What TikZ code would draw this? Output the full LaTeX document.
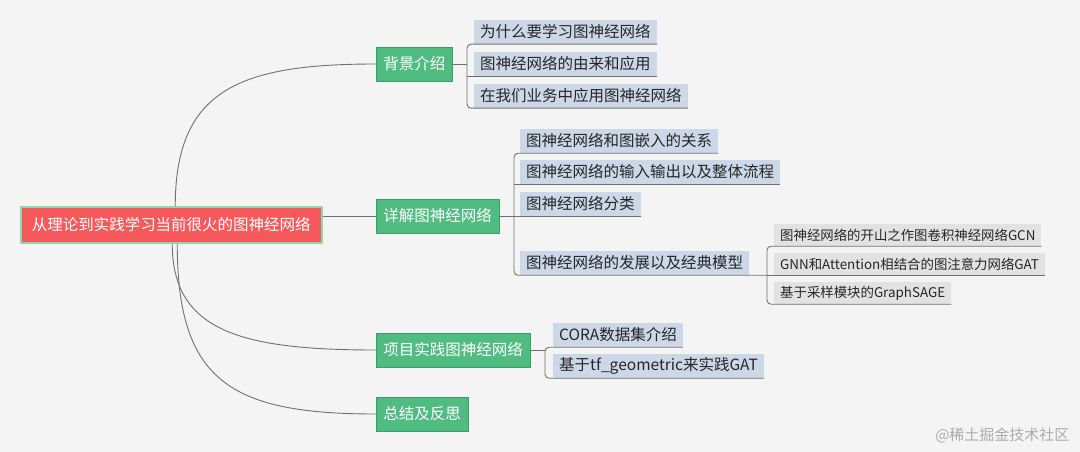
\documentclass[tikz,border=0pt]{standalone}
\usepackage{fontspec}
\setmainfont{Noto Sans CJK SC}
\usetikzlibrary{positioning}
\definecolor{bgc}{HTML}{F4F4F4}
\definecolor{rootred}{HTML}{F5595B}
\definecolor{rootline}{HTML}{8ED8B0}
\definecolor{topgreen}{HTML}{50BC81}
\definecolor{topline}{HTML}{3A9E68}
\definecolor{subblue}{HTML}{CCD7E8}
\definecolor{leafgray}{HTML}{E2E2E2}
\definecolor{linegray}{HTML}{707070}
\definecolor{markgray}{HTML}{ABABAB}

\begin{document}
\begin{tikzpicture}[x=1pt, y=-1pt,
      root/.style={anchor=west, fill=rootred, draw=rootline, line width=1.5pt,
        text=white, minimum height=36pt, inner xsep=11pt, inner ysep=0pt,
        font=\fontsize{15.5}{18}\selectfont},
      topic/.style={anchor=west, fill=topgreen, draw=topline, line width=0.8pt,
        text=white, minimum height=34pt, inner xsep=7pt, inner ysep=0pt,
        font=\fontsize{15.5}{18}\selectfont},
      sub/.style={anchor=west, fill=subblue, minimum height=24pt,
        inner xsep=6pt, inner ysep=0pt, text=black!85,
        font=\fontsize{15.5}{18}\selectfont},
      leaf/.style={anchor=west, fill=leafgray, minimum height=22pt,
        inner xsep=6pt, inner ysep=0pt, text=black!85,
        font=\fontsize{13.4}{15}\selectfont},
      link/.style={draw=linegray, line width=0.9pt},
      watermark/.style={anchor=east, text=markgray, font=\fontsize{15}{18}\selectfont}]
    \fill[bgc] (0,0) rectangle (1080,452);

    % main topic
    \node[root] (root) at (20,225) {从理论到实践学习当前很火的图神经网络};

    % first level
    \node[topic] (bg) at (376,64) {背景介绍};
    \node[topic] (xj) at (376,216) {详解图神经网络};
    \node[topic] (xm) at (376,350) {项目实践图神经网络};
    \node[topic] (zj) at (376,414) {总结及反思};

    % second level
    \node[sub] (b1) at (474,32) {为什么要学习图神经网络};
    \node[sub] (b2) at (474,64) {图神经网络的由来和应用};
    \node[sub] (b3) at (474,96) {在我们业务中应用图神经网络};

    \node[sub] (x1) at (520,141) {图神经网络和图嵌入的关系};
    \node[sub] (x2) at (520,172) {图神经网络的输入输出以及整体流程};
    \node[sub] (x3) at (520,204) {图神经网络分类};
    \node[sub] (x4) at (520,263) {图神经网络的发展以及经典模型};

    \node[leaf] (g1) at (774,235) {图神经网络的开山之作图卷积神经网络GCN};
    \node[leaf] (g2) at (774,264) {GNN和Attention相结合的图注意力网络GAT};
    \node[leaf] (g3) at (774,293) {基于采样模块的GraphSAGE};

    \node[sub] (p1) at (553,335) {CORA数据集介绍};
    \node[sub] (p2) at (553,366) {基于tf\_geometric来实践GAT};

    \node[watermark] (wm) at (1073,435) {@稀土掘金技术社区};

    % spines
    \coordinate (bgs) at (467,0);
    \coordinate (xjs) at (514,0);
    \coordinate (x4s) at (767,0);
    \coordinate (xms) at (545,0);

    % curves from the main topic
    \draw[link] ([xshift=4]root.north) .. controls +(0,-117) and +(-136,0) .. (bg.west);
    \draw[link] (xj.west -| root.east) -- (xj.west);
    \draw[link] ([xshift=1]root.south) .. controls +(0,87) and +(-136,0) .. (xm.west);
    \draw[link] ([xshift=6]root.south) .. controls +(0,137) and +(-146,0) .. (zj.west);

    % brackets
    \draw[link] (bg.east) -- (bg.east -| bgs);
    \draw[link, rounded corners=4] (b1.south east) -- (b1.south west -| bgs) |- (b3.south east);
    \draw[link] (b2.south west -| bgs) -- (b2.south east);

    \draw[link] (xj.east) -- (xj.east -| xjs);
    \draw[link, rounded corners=4] (x1.south east) -- (x1.south west -| xjs) |- (x4.south west -| x4s);
    \draw[link] (x2.south west -| xjs) -- (x2.south east);
    \draw[link] (x3.south west -| xjs) -- (x3.south east);

    \draw[link, rounded corners=4] (g1.south east) -- (g1.south west -| x4s) |- (g3.south east);
    \draw[link] (g2.south west -| x4s) -- (g2.south east);

    \draw[link] (xm.east) -- (xm.east -| xms);
    \draw[link, rounded corners=4] (p1.south east) -- (p1.south west -| xms) |- (p2.south east);
\end{tikzpicture}
\end{document}
